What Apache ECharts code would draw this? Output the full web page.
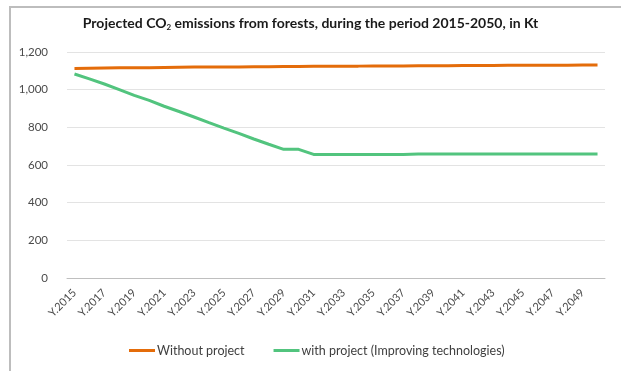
<!DOCTYPE html>
<html>
<head>
<meta charset="utf-8">
<script src="https://cdn.jsdelivr.net/npm/echarts@6/dist/echarts.min.js"></script>
<style>
  html, body { margin: 0; padding: 0; background: #ffffff; }
  #chart { width: 621px; height: 371px; }
</style>
</head>
<body>
<div id="chart"></div>
<script>
// Years 2015..2050 as category labels
const years = [
  'Y.2015','Y.2016','Y.2017','Y.2018','Y.2019','Y.2020','Y.2021','Y.2022','Y.2023',
  'Y.2024','Y.2025','Y.2026','Y.2027','Y.2028','Y.2029','Y.2030','Y.2031','Y.2032',
  'Y.2033','Y.2034','Y.2035','Y.2036','Y.2037','Y.2038','Y.2039','Y.2040','Y.2041',
  'Y.2042','Y.2043','Y.2044','Y.2045','Y.2046','Y.2047','Y.2048','Y.2049','Y.2050'
];

// Emissions in Kt, baseline scenario
const withoutProject = [
  1113, 1114, 1115, 1116, 1116, 1117, 1118, 1119, 1120,
  1120, 1121, 1121, 1122, 1122, 1123, 1123, 1124, 1124,
  1125, 1125, 1126, 1126, 1126, 1127, 1127, 1127, 1128,
  1128, 1128, 1129, 1129, 1130, 1130, 1130, 1131, 1131
];

// Emissions in Kt, improving technologies scenario
const withProject = [
  1083, 1057, 1030, 1000, 970, 943, 912, 884, 855,
  825, 796, 768, 738, 710, 683, 683, 656, 656,
  656, 656, 656, 656, 656, 659, 659, 659, 659,
  659, 659, 659, 659, 659, 659, 659, 659, 659
];

const yTicks = { min: 0, max: 1200, interval: 200 };

const font = 'Lato, "Open Sans", sans-serif';
const chart = echarts.init(document.getElementById('chart'), null, { renderer: 'canvas' });

chart.setOption({
  backgroundColor: '#ffffff',
  animation: false,
  textStyle: { fontFamily: font },
  title: {
    text: 'Projected CO{sub|2} emissions from forests, during the period 2015-2050, in Kt',
    left: 'center',
    top: 11,
    textStyle: {
      fontFamily: font,
      fontSize: 14,
      fontWeight: 'bold',
      color: '#1a1a1a',
      rich: {
        sub: { fontSize: 8, fontWeight: 'bold', color: '#1a1a1a', verticalAlign: 'bottom', padding: [7, 0, 0, 0], fontFamily: font }
      }
    }
  },
  legend: {
    bottom: 9,
    left: 124,
    itemGap: 29,
    itemWidth: 26,
    itemHeight: 3,
    icon: 'rect',
    textStyle: { fontFamily: font, fontSize: 12.5, color: '#404040', padding: [0, 0, 0, -3] },
    data: ['Without project', 'with project (Improving technologies)']
  },
  grid: { left: 67, right: 16, top: 52, bottom: 93 },
  xAxis: {
    type: 'category',
    data: years,
    boundaryGap: true,
    axisLine: { lineStyle: { color: '#bfbfbf', width: 1 } },
    axisTick: { show: false },
    axisLabel: {
      interval: 1,
      rotate: 45,
      margin: 13,
      fontSize: 11,
      color: '#4a4a4a',
      fontFamily: font
    }
  },
  yAxis: {
    type: 'value',
    min: yTicks.min,
    max: yTicks.max,
    interval: yTicks.interval,
    axisLine: { show: false },
    axisTick: { show: false },
    splitLine: { lineStyle: { color: '#e3e3e3', width: 1 } },
    axisLabel: {
      margin: 19,
      fontSize: 11.5,
      color: '#4a4a4a',
      fontFamily: font,
      formatter: v => v.toLocaleString('en-US')
    }
  },
  series: [
    {
      name: 'Without project',
      type: 'line',
      data: withoutProject,
      symbol: 'none',
      lineStyle: { color: '#e46c0a', width: 3 },
      itemStyle: { color: '#e46c0a' }
    },
    {
      name: 'with project (Improving technologies)',
      type: 'line',
      data: withProject,
      symbol: 'none',
      lineStyle: { color: '#52c47e', width: 3 },
      itemStyle: { color: '#52c47e' }
    }
  ],
  graphic: [
    {
      type: 'polyline',
      silent: true,
      shape: { points: [[10, 371], [10, 7], [621, 7]] },
      style: { stroke: '#bdbdbd', lineWidth: 2, fill: null }
    }
  ]
});
</script>
</body>
</html>
